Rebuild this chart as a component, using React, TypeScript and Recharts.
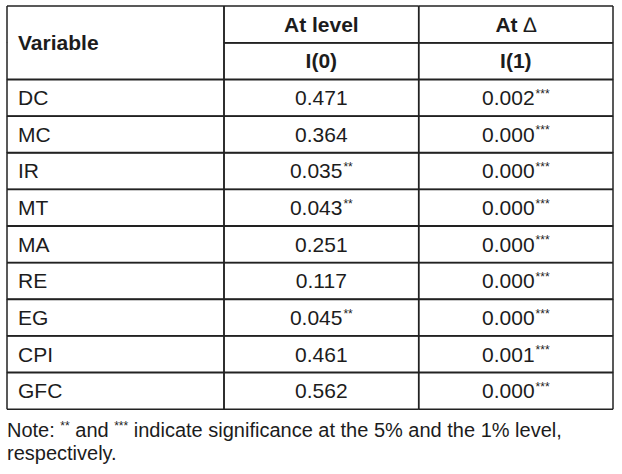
import React from "react";
import { BarChart, Bar, XAxis, YAxis } from "recharts";

const variables = ["DC", "MC", "IR", "MT", "MA", "RE", "EG", "CPI", "GFC"];
const levelValues = ["0.471", "0.364", "0.035", "0.043", "0.251", "0.117", "0.045", "0.461", "0.562"];
const levelStars = ["", "", "**", "**", "", "", "**", "", ""];
const deltaValues = ["0.002", "0.000", "0.000", "0.000", "0.000", "0.000", "0.000", "0.001", "0.000"];
const deltaStars = ["***", "***", "***", "***", "***", "***", "***", "***", "***"];
const headerTop = ["Variable", "At level", "At \u2206"];
const headerSub = ["", "I(0)", "I(1)"];

// column widths on the x scale (table is 606 wide)
const COLS = [217, 194.7, 194.3];
const FONT = "'Liberation Sans', Arial, sans-serif";
const INK = "#1c1c1c";
const FS = 21;

type Row = {
  key: string;
  kind: "head1" | "head2" | "data";
  cells: string[];
  stars: string[];
  c0: number;
  c1: number;
  c2: number;
};

const rows: Row[] = [
  { key: "h1", kind: "head1", cells: headerTop, stars: ["", "", ""], c0: COLS[0], c1: COLS[1], c2: COLS[2] },
  { key: "h2", kind: "head2", cells: headerSub, stars: ["", "", ""], c0: COLS[0], c1: COLS[1], c2: COLS[2] },
  ...variables.map((v, i) => ({
    key: v,
    kind: "data" as const,
    cells: [v, levelValues[i], deltaValues[i]],
    stars: ["", levelStars[i], deltaStars[i]],
    c0: COLS[0],
    c1: COLS[1],
    c2: COLS[2],
  })),
];

// the delta sign is set in a lighter weight than the bold header
function renderHeader(text: string) {
  const k = text.indexOf("\u2206");
  if (k < 0) return text;
  return (
    <>
      {text.slice(0, k)}
      <tspan fontWeight="normal">{"\u2206"}</tspan>
    </>
  );
}

function makeCell(col: number) {
  return function CellShape(props: any) {
    const { x, y, width, height, index } = props;
    const row: Row = props.payload && props.payload.kind ? props.payload : rows[index];
    const x2 = x + width;
    const y2 = y + height;
    const bold = row.kind !== "data";
    const text = row.cells[col];
    const star = row.stars[col];

    const lines: [number, number, number, number][] = [
      [x, y, x, y2],
      [x2, y, x2, y2],
    ];
    if (!(col === 0 && row.kind === "head2")) lines.push([x, y, x2, y]);
    if (!(col === 0 && row.kind === "head1")) lines.push([x, y2, x2, y2]);

    let label = null;
    if (col === 0) {
      if (row.kind === "head1") {
        label = (
          <text x={x + 11} y={y2} dy="0.35em" fontWeight="bold" fontSize={FS} fill={INK} fontFamily={FONT}>
            {text}
          </text>
        );
      } else if (row.kind === "data") {
        label = (
          <text x={x + 11} y={y + height / 2} dy="0.35em" fontSize={FS} fill={INK} fontFamily={FONT}>
            {text}
          </text>
        );
      }
    } else {
      label = (
        <text
          x={x + width / 2}
          y={y + height / 2}
          dy="0.35em"
          textAnchor="middle"
          fontWeight={bold ? "bold" : "normal"}
          fontSize={FS}
          fill={INK}
          fontFamily={FONT}
        >
          {bold ? renderHeader(text) : text}
          {star ? (
            <tspan fontSize={12} dy="-0.62em" dx={1}>
              {star}
            </tspan>
          ) : null}
        </text>
      );
    }

    return (
      <g>
        {lines.map((l, i) => (
          <line key={i} x1={l[0]} y1={l[1]} x2={l[2]} y2={l[3]} stroke="#222" strokeWidth={1.5} />
        ))}
        {label}
      </g>
    );
  };
}

export default function App() {
  const supStyle = { fontSize: 12, verticalAlign: "top", lineHeight: "14px" } as const;
  return (
    <div style={{ position: "absolute", left: 0, top: 0, width: 622, height: 474, background: "#fff" }}>
      <BarChart
        width={622}
        height={474}
        data={rows}
        layout="vertical"
        margin={{ top: 6, right: 9, bottom: 65, left: 7 }}
        barCategoryGap={0}
        barGap={0}
      >
        <XAxis type="number" domain={[0, 606]} hide />
        <YAxis type="category" dataKey="key" hide />
        <Bar dataKey="c0" stackId="t" fill="none" isAnimationActive={false} shape={makeCell(0)} />
        <Bar dataKey="c1" stackId="t" fill="none" isAnimationActive={false} shape={makeCell(1)} />
        <Bar dataKey="c2" stackId="t" fill="none" isAnimationActive={false} shape={makeCell(2)} />
      </BarChart>
      <div
        style={{
          position: "absolute",
          left: 7,
          top: 419,
          fontFamily: FONT,
          fontSize: 20,
          lineHeight: "22.5px",
          color: INK,
          width: 612,
          whiteSpace: "nowrap",
        }}
      >
        Note: <span style={supStyle}>**</span> and <span style={supStyle}>***</span> indicate significance at the 5% and the 1% level,
        <br />
        respectively.
      </div>
    </div>
  );
}
